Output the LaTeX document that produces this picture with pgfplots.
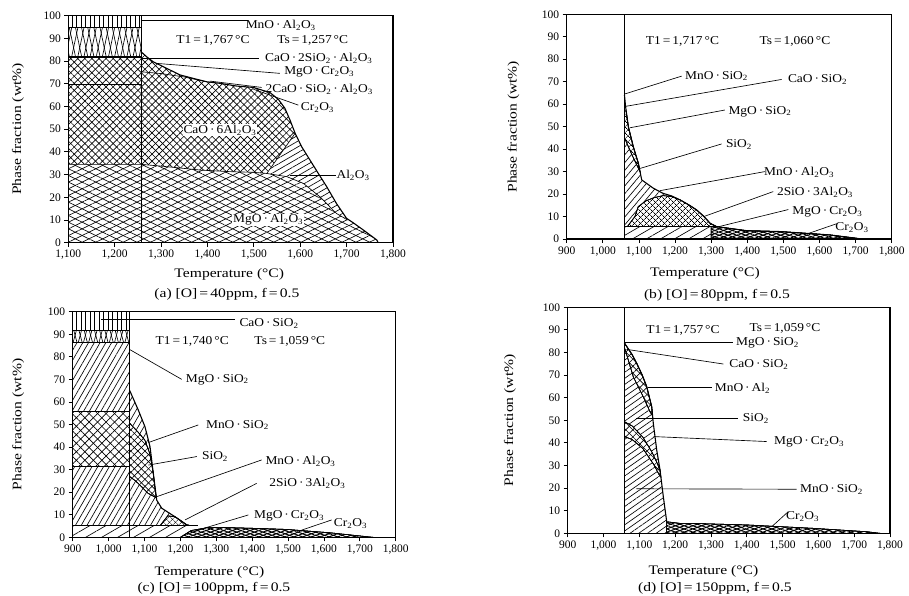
\documentclass[border=0pt]{standalone}
\usepackage{pgfplots}
\pgfplotsset{compat=1.18}
\usetikzlibrary{patterns.meta}
\usepackage{fontspec}
\setmainfont{Liberation Serif}
\newfontfamily\lbf{Liberation Serif}[FakeStretch=1.12]
\newfontfamily\axf{Liberation Serif}[FakeStretch=1.2]
\newcommand{\dt}{\,·\,}
\newcommand{\s}[1]{\textsubscript{#1}}

\tikzset{
 L/.style args={#1:#2}{fill=white, postaction={pattern={Lines[angle=#1,distance=#2,line width=0.65pt]}}},
 X/.style args={#1:#2}{fill=white, postaction={pattern={Lines[angle=#1,distance=#2,line width=0.65pt]}}, postaction={pattern={Lines[angle=-#1,distance=#2,line width=0.65pt]}}},
 Xd/.style args={#1:#2}{fill=white, postaction={pattern={Lines[angle=#1,distance=#2,line width=1pt]}}, postaction={pattern={Lines[angle=-#1,distance=#2,line width=1pt]}}},
 lab/.style={font=\lbf\fontsize{12}{14}\selectfont, inner sep=1pt},
 axl/.style={font=\axf\fontsize{13}{15}\selectfont},
 ld/.style={line width=0.65pt, black},
 bd/.style={line width=1.1pt, black},
}
\pgfplotsset{
 panel/.style={
  scale only axis, anchor=south west, clip=false, axis on top,
  ymin=0, ymax=100, ytick={0,10,...,100}, xmax=1800,
  tick align=outside, xtick pos=left, ytick pos=left,
  major tick length=4pt,
  axis line style={line width=1.1pt},
  every tick/.style={line width=0.8pt, black},
  tick label style={font=\fontsize{11.5}{12}\selectfont},
  /pgf/number format/1000 sep={,},
  /pgf/number format/assume math mode=true,
 },
}

\begin{document}
\begin{tikzpicture}
\useasboundingbox (0pt,0pt) rectangle (909pt,596pt);

% ---------------- (a) ----------------
\begin{axis}[panel, at={(68.3pt,353.3pt)}, width=324.7pt, height=227pt,
  xmin=1100, xtick={1100,1200,...,1800}]
\addplot[X=45:5pt, draw=none] coordinates {(1100,0) (1100,81.8) (1257,81.8) (1257,84.1) (1269,81.9) (1283,79.7) (1312,76.8) (1341,73.9) (1369,72.4) (1398,70.9) (1427,70.2) (1463,69) (1499,68.4) (1535,66.1) (1553,63.1) (1567,59.2) (1578,54) (1589,48.2) (1603,42.3) (1621,36.4) (1639,30.5) (1657,24.7) (1678,17.3) (1700,10.7) (1714,8.8) (1736,5.6) (1765,1.2) (1768,0)};
\addplot[X=26:6pt, draw=none] coordinates {(1100,0) (1100,34.5) (1257,34.5) (1312,33.5) (1384,32) (1448,31.3) (1499,31) (1528,30.5) (1571,29.1) (1607,26.1) (1642,20.3) (1678,12.9) (1702,10) (1714,8.8) (1736,5.6) (1765,1.2) (1768,0)};
\addplot[L=30:5pt, draw=none] coordinates {(1528,30.5) (1571,29.1) (1607,26.1) (1642,20.3) (1678,12.9) (1702,10) (1678,17.3) (1657,24.7) (1639,30.5) (1621,36.4) (1603,42.3) (1589,48.2)};
\addplot[X=78:6pt, draw=none] coordinates {(1100,81.8) (1100,95) (1257,95) (1257,81.8)};
\addplot[L=90:4.5pt, draw=none] coordinates {(1100,95) (1100,100) (1257,100) (1257,95)};
\addplot[ld] coordinates {(1100,34.5) (1257,34.5) (1312,33.5) (1384,32) (1448,31.3) (1499,31) (1528,30.5) (1571,29.1) (1607,26.1) (1642,20.3) (1678,12.9) (1702,10)};
\addplot[ld] coordinates {(1100,69.8) (1257,69.8)};
\addplot[bd] coordinates {(1100,81.8) (1257,81.8)};
\addplot[ld] coordinates {(1100,95) (1257,95)};
\addplot[ld] coordinates {(1257,75.3) (1300,74.5) (1350,73) (1398,70.9)};
\addplot[ld] coordinates {(1528,30.5) (1589,48.2)};
\addplot[bd] coordinates {(1257,84.1) (1269,81.9) (1283,79.7) (1312,76.8) (1341,73.9) (1369,72.4) (1398,70.9) (1427,70.2) (1463,69) (1499,68.4) (1535,66.1) (1553,63.1) (1567,59.2) (1578,54) (1589,48.2) (1603,42.3) (1621,36.4) (1639,30.5) (1657,24.7) (1678,17.3) (1700,10.7) (1714,8.8) (1736,5.6) (1765,1.2) (1768,0)};
\addplot[bd] coordinates {(1257,0) (1257,100)};
% leaders
\addplot[ld] coordinates {(1257,97.8) (1488,97.8)};
\addplot[ld] coordinates {(1257,81.4) (1511,81.4)};
\addplot[ld] coordinates {(1290,79) (1556,74.6)};
\addplot[ld] coordinates {(1405,71.2) (1517,68.4)};
\addplot[ld] coordinates {(1499,67.6) (1596,60.6)};
\addplot[ld] coordinates {(1578,29.8) (1678,29.8)};
\node[lab] at (axis cs:1558,95.9) {MnO\dt Al\s{2}O\s{3}};
\node[lab] at (axis cs:1412,88.9) {T1\,=\,1,767\,°C};
\node[lab] at (axis cs:1627,88.9) {Ts\,=\,1,257\,°C};
\node[lab] at (axis cs:1640,81.2) {CaO\dt 2SiO\s{2}\dt Al\s{2}O\s{3}};
\node[lab] at (axis cs:1641,75.3) {MgO\dt Cr\s{2}O\s{3}};
\node[lab] at (axis cs:1641,67.6) {2CaO\dt SiO\s{2}\dt Al\s{2}O\s{3}};
\node[lab] at (axis cs:1637,59.6) {Cr\s{2}O\s{3}};
\node[lab, fill=white] at (axis cs:1427,49.6) {CaO\dt 6Al\s{2}O\s{3}};
\node[lab] at (axis cs:1714,29.8) {Al\s{2}O\s{3}};
\node[lab, fill=white] at (axis cs:1531,10) {MgO\dt Al\s{2}O\s{3}};
\node[axl] at (axis cs:1447,0) [yshift=-32pt] {Temperature (°C)};
\node[axl] at (axis cs:1442,0) [yshift=-52pt] {(a) [O]\,=\,40ppm, f\,=\,0.5};
\end{axis}
\node[axl, rotate=90] at (18pt,467pt) {Phase fraction (wt\%)};

% ---------------- (b) ----------------
\begin{axis}[panel, at={(566.7pt,357pt)}, width=325pt, height=224.7pt,
  xmin=900, xtick={900,1000,...,1800}]
\addplot[L=30:7pt, draw=none] coordinates {(1060,0) (1060,5.5) (1315,5.5) (1315,0)};
\addplot[L=50:5pt, draw=none] coordinates {(1060,5.5) (1060,64) (1063,59) (1070.7,50) (1084.5,41) (1098.4,33.7) (1107.7,26.3) (1139.8,22.6) (1167,20.3) (1190,19.2) (1214,17.4) (1240,15) (1260,12.9) (1280,10) (1297,7) (1315,5.5)};
\addplot[X=45:4pt, draw=black, line width=0.6pt] coordinates {(1068,5.5) (1089,10) (1098,14.4) (1120,17) (1140,18.3) (1167,19.3) (1190,18.9) (1214,17.4) (1240,15) (1260,12.9) (1280,10) (1297,7) (1315,5.5)};
\addplot[X=45:4pt, draw=black, line width=0.6pt] coordinates {(1060,57) (1064.5,57) (1070.7,50) (1084.5,41) (1098.4,33.7) (1103,30) (1082,37) (1060,45)};
\addplot[Xd=20:3pt, draw=black, line width=0.6pt] coordinates {(1300,0) (1300,5.5) (1315,5.5) (1398,3.7) (1491,3.3) (1565,2.5) (1629,1.8) (1703,0.3) (1717,0)};
\addplot[ld] coordinates {(1060,5.5) (1315,5.5)};
\addplot[bd] coordinates {(1060,64) (1063,59) (1070.7,50) (1084.5,41) (1098.4,33.7) (1107.7,26.3) (1139.8,22.6) (1167,20.3) (1190,19.2) (1214,17.4) (1240,15) (1260,12.9) (1280,10) (1297,7) (1315,5.5) (1398,3.7) (1491,3.3) (1565,2.5) (1629,1.8) (1703,0.3) (1717,0)};
\addplot[bd] coordinates {(1060,0) (1060,100)};
\addplot[ld] coordinates {(1060,64.5) (1218.5,72.5)};
\addplot[ld] coordinates {(1062,59) (1495,71)};
\addplot[ld] coordinates {(1075,49.5) (1338,57.4)};
\addplot[ld] coordinates {(1103,31.4) (1329,42.3)};
\addplot[ld] coordinates {(1158,21.5) (1449,30)};
\addplot[ld] coordinates {(1280,10) (1472,21.1)};
\addplot[ld] coordinates {(1306,4.9) (1513.7,13.1)};
\addplot[ld] coordinates {(1564.6,2.2) (1647.7,6.8)};
\node[lab] at (axis cs:1220.6,88.1) {T1\,=\,1,717\,°C};
\node[lab] at (axis cs:1532,88.1) {Ts\,=\,1,060\,°C};
\node[lab] at (axis cs:1315,72.5) {MnO\dt SiO\s{2}};
\node[lab] at (axis cs:1594.6,70.8) {CaO\dt SiO\s{2}};
\node[lab] at (axis cs:1435,56.8) {MgO\dt SiO\s{2}};
\node[lab] at (axis cs:1377,42) {SiO\s{2}};
\node[lab] at (axis cs:1543.5,29.6) {MnO\dt Al\s{2}O\s{3}};
\node[lab] at (axis cs:1587.6,20.6) {2SiO\dt 3Al\s{2}O\s{3}};
\node[lab] at (axis cs:1622,11.9) {MgO\dt Cr\s{2}O\s{3}};
\node[lab] at (axis cs:1690,5) {Cr\s{2}O\s{3}};
\node[axl] at (axis cs:1283,0) [yshift=-34pt] {Temperature (°C)};
\node[axl] at (axis cs:1316,0) [yshift=-56pt] {(b) [O]\,=\,80ppm, f\,=\,0.5};
\end{axis}
\node[axl, rotate=90] at (513.3pt,469.3pt) {Phase fraction (wt\%)};

% ---------------- (c) ----------------
\begin{axis}[panel, at={(72.7pt,58.7pt)}, width=323pt, height=225.6pt,
  xmin=900, xtick={900,1000,...,1800}]
\addplot[L=30:8pt, draw=none] coordinates {(900,0) (900,5.5) (1230,5.5) (1230,0)};
\addplot[L=60:5pt, draw=none] coordinates {(900,5.5) (900,31.3) (1059,31.3) (1059,5.5)};
\addplot[X=45:6pt, draw=none] coordinates {(900,31.3) (900,55.7) (1059,55.7) (1059,31.3)};
\addplot[L=60:5pt, draw=none] coordinates {(900,55.7) (900,86.4) (1059,86.4) (1059,55.7)};
\addplot[X=75:5pt, draw=none] coordinates {(900,86.4) (900,91.9) (1059,91.9) (1059,86.4)};
\addplot[L=90:4.5pt, draw=none] coordinates {(900,91.9) (900,100) (1059,100) (1059,91.9)};
\addplot[L=60:5pt, draw=none] coordinates {(1059,5.5) (1059,65) (1082.8,56.4) (1101.4,49) (1115.4,40.2) (1124.6,28.4) (1134,16.5) (1148,12.9) (1185,9.1) (1217.6,5.5)};
\addplot[X=45:5pt, draw=black, line width=0.6pt] coordinates {(1059,50.5) (1080,47) (1101,43.1) (1115,37) (1124.6,28.4) (1129,22) (1133,17.5) (1110,19.5) (1092,22.4) (1075,25) (1059,26.9)};
\addplot[X=45:4pt, draw=black, line width=0.6pt] coordinates {(1145,5.5) (1165,9.5) (1185,9.1) (1205,7) (1217.6,5.5)};
\addplot[Xd=20:3pt, draw=black, line width=0.6pt] coordinates {(1200,0) (1230,3) (1280,4.4) (1310,4.4) (1400,4) (1496,3.5) (1617,2) (1700,0.6) (1737,0)};
\addplot[ld] coordinates {(900,5.5) (1250,5.5)};
\addplot[ld] coordinates {(900,31.3) (1059,31.3)};
\addplot[ld] coordinates {(900,55.7) (1059,55.7)};
\addplot[bd] coordinates {(900,86.4) (1059,86.4)};
\addplot[ld] coordinates {(900,91.9) (1059,91.9)};
\addplot[bd] coordinates {(1059,65) (1082.8,56.4) (1101.4,49) (1115.4,40.2) (1124.6,28.4) (1134,16.5) (1148,12.9) (1185,9.1) (1217.6,5.5)};
\addplot[bd] coordinates {(1059,0) (1059,100)};
\addplot[ld] coordinates {(980,96.6) (1352,96.6)};
\addplot[ld] coordinates {(1058,83.3) (1203.7,70)};
\addplot[ld] coordinates {(1110.7,42) (1250,49.8)};
\addplot[ld] coordinates {(1110.7,32) (1246,35.8)};
\addplot[ld] coordinates {(1134,18) (1426.5,34.3)};
\addplot[ld] coordinates {(1213,7.7) (1412.6,23.9)};
\addplot[ld] coordinates {(1255,3.5) (1389.4,9.9)};
\addplot[ld] coordinates {(1538,3.2) (1621.6,7.7)};
\node[lab] at (axis cs:1447,94.9) {CaO\dt SiO\s{2}};
\node[lab] at (axis cs:1233,86.7) {T1\,=\,1,740\,°C};
\node[lab] at (axis cs:1505,86.9) {Ts\,=\,1,059\,°C};
\node[lab] at (axis cs:1303,70) {MgO\dt SiO\s{2}};
\node[lab] at (axis cs:1359,49.8) {MnO\dt SiO\s{2}};
\node[lab] at (axis cs:1296.5,35.8) {SiO\s{2}};
\node[lab] at (axis cs:1534.7,33.5) {MnO\dt Al\s{2}O\s{3}};
\node[lab] at (axis cs:1554,23.9) {2SiO\dt 3Al\s{2}O\s{3}};
\node[lab] at (axis cs:1503,9.5) {MgO\dt Cr\s{2}O\s{3}};
\node[lab] at (axis cs:1674,6.2) {Cr\s{2}O\s{3}};
\node[axl] at (axis cs:1281,0) [yshift=-35pt] {Temperature (°C)};
\node[axl] at (axis cs:1293.5,0) [yshift=-51pt] {(c) [O]\,=\,100ppm, f\,=\,0.5};
\end{axis}
\node[axl, rotate=90] at (18.3pt,171.5pt) {Phase fraction (wt\%)};

% ---------------- (d) ----------------
\begin{axis}[panel, at={(567.7pt,62.7pt)}, width=322.3pt, height=226pt,
  xmin=900, xtick={900,1000,...,1800}]
\addplot[L=35:5pt, draw=none] coordinates {(1058,0) (1058,84.3) (1080,79) (1092.7,75.2) (1108,70) (1120.6,64.9) (1134.6,56) (1139,48.7) (1148.5,36.9) (1157.8,28) (1167,16.2) (1176.5,5.1) (1180,0)};
\addplot[X=45:5pt, draw=black, line width=0.6pt] coordinates {(1058,84.3) (1080,79) (1092.7,75.2) (1108,70) (1120.6,64.9) (1134.6,56) (1137,52) (1129.8,53.8) (1111,60.4) (1083,69.3) (1060,81.5) (1058,82)};
\addplot[X=45:5pt, draw=black, line width=0.6pt] coordinates {(1058,49.4) (1080,47.5) (1110,42.5) (1135,36) (1150,31) (1157.8,28) (1160,25) (1155,26) (1140,30.5) (1110,37.5) (1080,41.5) (1058,42.8)};
\addplot[Xd=20:3pt, draw=black, line width=0.6pt] coordinates {(1176,0) (1176.5,5.1) (1213,4.4) (1241,4.4) (1400,3.7) (1586,2.2) (1735,0.7) (1772,0)};
\addplot[bd] coordinates {(1058,84.3) (1080,79) (1092.7,75.2) (1108,70) (1120.6,64.9) (1134.6,56) (1139,48.7) (1148.5,36.9) (1157.8,28) (1167,16.2) (1176.5,5.1)};
\addplot[bd] coordinates {(1058,0) (1058,100)};
\addplot[ld] coordinates {(1058,84.5) (1362.5,84.5)};
\addplot[ld] coordinates {(1064,81.4) (1334.6,74.9)};
\addplot[ld] coordinates {(1125,64.5) (1302,64.5)};
\addplot[ld] coordinates {(1092,50.9) (1376.5,50.9)};
\addplot[ld] coordinates {(1140,42.8) (1455.6,40.6)};
\addplot[ld] coordinates {(1092,19.7) (1539.4,19.5)};
\addplot[ld] coordinates {(1469.6,2.9) (1516,9.6)};
\node[lab] at (axis cs:1222,89.6) {T1\,=\,1,757\,°C};
\node[lab] at (axis cs:1506.8,90.7) {Ts\,=\,1,059\,°C};
\node[lab] at (axis cs:1458,84.4) {MgO\dt SiO\s{2}};
\node[lab] at (axis cs:1434,74.5) {CaO\dt SiO\s{2}};
\node[lab] at (axis cs:1388,64.2) {MnO\dt Al\s{2}};
\node[lab] at (axis cs:1425.5,50.9) {SiO\s{2}};
\node[lab] at (axis cs:1574,40.6) {MgO\dt Cr\s{2}O\s{3}};
\node[lab] at (axis cs:1636.6,19.2) {MnO\dt SiO\s{2}};
\node[lab] at (axis cs:1556,7.4) {Cr\s{2}O\s{3}};
\node[axl] at (axis cs:1279,0) [yshift=-38pt] {Temperature (°C)};
\node[axl] at (axis cs:1311,0) [yshift=-55pt] {(d) [O]\,=\,150ppm, f\,=\,0.5};
\end{axis}
\node[axl, rotate=90] at (510pt,175.7pt) {Phase fraction (wt\%)};

\end{tikzpicture}
\end{document}
